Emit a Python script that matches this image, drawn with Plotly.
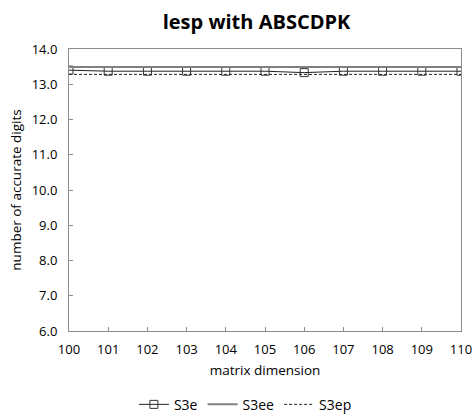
import plotly.graph_objects as go

# matrix dimensions and accuracy (number of accurate digits) per method
dims = [100, 101, 102, 103, 104, 105, 106, 107, 108, 109, 110]
s3e = [13.40, 13.37, 13.37, 13.37, 13.37, 13.37, 13.33, 13.37, 13.37, 13.37, 13.37]
s3ee = [13.49, 13.49, 13.49, 13.49, 13.49, 13.49, 13.49, 13.49, 13.49, 13.49, 13.49]
s3ep = [13.28, 13.28, 13.28, 13.28, 13.28, 13.28, 13.28, 13.28, 13.28, 13.28, 13.28]
y_ticks = [6, 7, 8, 9, 10, 11, 12, 13, 14]

font_family = "Open Sans, Liberation Sans, sans-serif"

fig = go.Figure()
fig.add_trace(go.Scatter(
    x=dims, y=s3e, name="S3e", mode="lines+markers",
    line=dict(color="#222222", width=1),
    marker=dict(symbol="square-open", size=8, color="#333333", line=dict(width=1)),
))
fig.add_trace(go.Scatter(
    x=dims, y=s3ee, name="S3ee", mode="lines",
    line=dict(color="#808080", width=2),
))
fig.add_trace(go.Scatter(
    x=dims, y=s3ep, name="S3ep", mode="lines",
    line=dict(color="#222222", width=1, dash="3px,2px"),
))

axis_common = dict(
    showline=True, linecolor="#8c8c8c", linewidth=1, mirror=True,
    ticks="inside", ticklen=4, tickcolor="#8c8c8c",
    showgrid=False, zeroline=False,
    tickfont=dict(family=font_family, size=13, color="#000000"),
)

fig.update_layout(
    width=475, height=416,
    margin=dict(l=69, r=14, t=49, b=85, autoexpand=False),
    paper_bgcolor="white", plot_bgcolor="white",
    title=dict(text="<b>lesp with ABSCDPK</b>", x=0.54, xanchor="center",
               y=0.947, yanchor="middle",
               font=dict(family=font_family, size=20, color="#000000")),
    xaxis=dict(range=[100, 110], tickmode="array", tickvals=dims,
               ticktext=[str(d) for d in dims], ticklabelstandoff=6,
               title=dict(text="matrix dimension", standoff=8,
                          font=dict(family=font_family, size=13.5, color="#000000")),
               **axis_common),
    yaxis=dict(range=[6, 14], tickmode="array", tickvals=y_ticks,
               ticktext=[f"{v:.1f}" for v in y_ticks], ticklabelstandoff=8,
               title=dict(text="number of accurate digits", standoff=6,
                          font=dict(family=font_family, size=13.5, color="#000000")),
               **axis_common),
    legend=dict(orientation="h", x=0.45, xanchor="center",
                yref="container", y=0.027, yanchor="middle",
                font=dict(family=font_family, size=14, color="#000000"),
                itemwidth=30),
    showlegend=True,
)

fig.write_html("out.html")
